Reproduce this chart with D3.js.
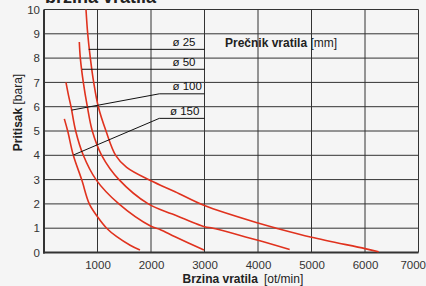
<!DOCTYPE html>
<html>
<head>
<meta charset="utf-8">
<script src="https://cdn.jsdelivr.net/npm/d3@7"></script>
<style>
  body { margin: 0; background: #f5f5f5; }
  svg { display: block; font-family: "Liberation Sans", Arial, sans-serif; }
</style>
</head>
<body>
<div id="chart"></div>
<script>
// rpm (x) and pressure in bar (y), one array per shaft diameter
var d25 = [[785,10],[817,9],[866,8],[929,7],[1015,6],[1159,5],[1340,4],[1545,3.5],[2000,2.95],[2450,2.5],[3000,1.93],[4000,1.21],[4343,1.0],[5000,0.63],[6000,0.16],[6255,0.03]];
var d50 = [[660,8.66],[679,8],[735,7],[810,6],[903,5],[1078,4],[1402,3],[1950,2],[2400,1.58],[3000,1.06],[3160,1.0],[4000,0.5],[4592,0.12]];
var d100 = [[411,7.0],[455,6.5],[505,6],[592,5],[735,4],[972,3],[1400,2],[2000,1.08],[2168,0.95],[2450,0.65],[2990,0.1]];
var d150 = [[380,5.5],[443,5],[548,4],[704,3],[847,2],[1000,1.47],[1171,1],[1360,0.65],[1610,0.3],[1794,0.1]];

var seriesNames = ['ø 25', 'ø 50', 'ø 100', 'ø 150'];
var seriesData = [d25, d50, d100, d150];
// leader lines from each curve to its label: [start, knee, end] in data units
var leaders = [
	[[835,8.36],[835,8.36],[3000,8.36]],
	[[710,7.54],[710,7.54],[3000,7.54]],
	[[518,5.86],[2155,6.53],[3000,6.53]],
	[[548,4.01],[2155,5.52],[3000,5.52]]
];

var xTicks = [1000,2000,3000,4000,5000,6000,7000];
var yTicks = [0,1,2,3,4,5,6,7,8,9,10];

var width = 426, height = 286;
var svg = d3.select('#chart').append('svg')
	.attr('width', width)
	.attr('height', height);

svg.append('rect').attr('width', width).attr('height', height).attr('fill', '#f5f5f5');

var x = d3.scaleLinear().domain([0, 7000]).range([44, 418.5]);
var y = d3.scaleLinear().domain([0, 10]).range([252.5, 9.5]);

// grid
svg.append('g').selectAll('line')
	.data(yTicks.slice(1))
	.enter().append('line')
	.attr('x1', x(0)).attr('x2', x(7000))
	.attr('y1', function(d) { return y(d); })
	.attr('y2', function(d) { return y(d); })
	.attr('stroke', '#333').attr('stroke-width', 1);

svg.append('g').selectAll('line')
	.data(xTicks)
	.enter().append('line')
	.attr('y1', y(0)).attr('y2', y(10))
	.attr('x1', function(d) { return x(d); })
	.attr('x2', function(d) { return x(d); })
	.attr('stroke', '#333').attr('stroke-width', 1);

// axes (labels only, lines drawn below)
var yAxis = svg.append('g')
	.attr('transform', 'translate(' + x(0) + ',0)')
	.call(d3.axisLeft(y).tickValues(yTicks).tickSize(0).tickPadding(4));
yAxis.select('.domain').remove();
yAxis.selectAll('text').style('font-size', '11.5px').attr('fill', '#333')
	.style('font-family', '"Liberation Sans", Arial, sans-serif');

var xAxis = svg.append('g')
	.attr('transform', 'translate(0,' + y(0) + ')')
	.call(d3.axisBottom(x).tickValues(xTicks).tickFormat(d3.format('d')).tickSize(0).tickPadding(8));
xAxis.select('.domain').remove();
xAxis.selectAll('text').style('font-size', '11.5px').attr('fill', '#333')
	.style('font-family', '"Liberation Sans", Arial, sans-serif');
// last label sits against the right edge
xAxis.selectAll('.tick').filter(function(d) { return d == 7000; })
	.select('text').attr('text-anchor', 'end').attr('dx', 7);

svg.append('line')
	.attr('x1', x(0)).attr('x2', x(0)).attr('y1', y(10)).attr('y2', y(0) + 1)
	.attr('stroke', '#333').attr('stroke-width', 2);
svg.append('line')
	.attr('x1', x(0) - 1).attr('x2', x(7000)).attr('y1', y(0)).attr('y2', y(0))
	.attr('stroke', '#333').attr('stroke-width', 2);

// curves
var line = d3.line()
	.x(function(d) { return x(d[0]); })
	.y(function(d) { return y(d[1]); })
	.curve(d3.curveCatmullRom.alpha(0.5));

svg.append('g').selectAll('path')
	.data(seriesData)
	.enter().append('path')
	.attr('d', line)
	.attr('fill', 'none')
	.attr('stroke', '#e0321e')
	.attr('stroke-width', 1.6);

// leaders + labels
var leaderLine = d3.line()
	.x(function(d) { return x(d[0]); })
	.y(function(d) { return y(d[1]); });

svg.append('g').selectAll('path')
	.data(leaders)
	.enter().append('path')
	.attr('d', leaderLine)
	.attr('fill', 'none')
	.attr('stroke', '#111')
	.attr('stroke-width', 1);

svg.append('g').selectAll('text')
	.data(seriesNames)
	.enter().append('text')
	.attr('x', function(d, i) { return i == 3 ? 170 : 172.5; })
	.attr('y', function(d, i) { return y(leaders[i][2][1]) - 3.5; })
	.text(function(d) { return d; })
	.style('font-size', '11.5px')
	.attr('fill', '#111');

var leg = svg.append('text')
	.attr('x', 225)
	.attr('y', 46.5)
	.style('font-size', '12px')
	.attr('fill', '#222');
leg.append('tspan').attr('font-weight', 'bold').text('Prečnik vratila');
leg.append('tspan').text(' [mm]');

// axis titles
var xt = svg.append('text')
	.attr('x', 182.5)
	.attr('y', 283)
	.style('font-size', '12px')
	.attr('fill', '#222');
xt.append('tspan').attr('font-weight', 'bold').text('Brzina vratila');
xt.append('tspan').attr('dx', 6).text('[ot/min]');

var yt = svg.append('text')
	.attr('transform', 'translate(22,112.5) rotate(-90)')
	.attr('text-anchor', 'middle')
	.style('font-size', '12px')
	.attr('fill', '#222');
yt.append('tspan').attr('font-weight', 'bold').text('Pritisak');
yt.append('tspan').text(' [bara]');

// title, cut off at the top edge like in the source image
svg.append('text')
	.attr('x', 45)
	.attr('y', 3)
	.attr('font-weight', 'bold')
	.style('font-size', '18px')
	.attr('fill', '#222')
	.text('brzina vratila');
</script>
</body>
</html>
